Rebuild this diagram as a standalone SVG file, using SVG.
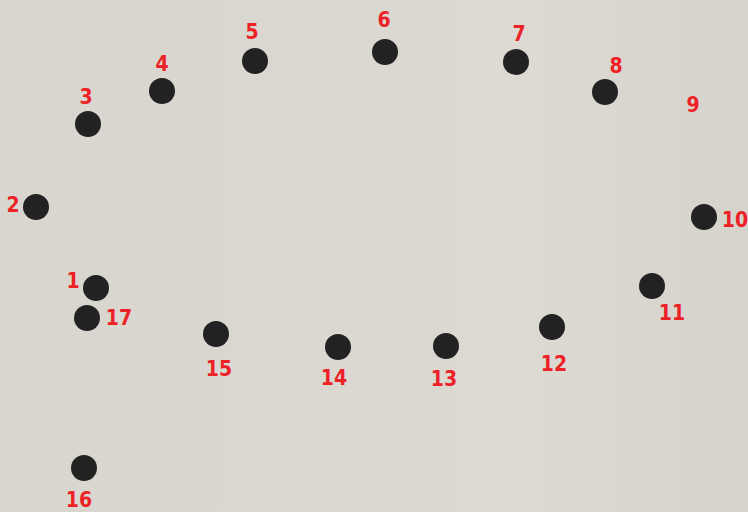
<svg xmlns="http://www.w3.org/2000/svg" width="748" height="512" viewBox="0 0 748 512">
<defs>
<style>
.d{fill:#222}
.t{fill:#ec2227;font-family:"DejaVu Sans Condensed","Liberation Sans",sans-serif;font-stretch:condensed;font-weight:bold;font-size:21px;text-anchor:middle;dominant-baseline:central}
</style>
<linearGradient id="bg" x1="0" y1="0" x2="1" y2="0">
<stop offset="0" stop-color="#d9d6cf"/>
<stop offset="0.6" stop-color="#dbd8d1"/>
<stop offset="0.64" stop-color="#dedbd4"/>
<stop offset="1" stop-color="#d6d3cc"/>
</linearGradient>
</defs>
<rect width="748" height="512" fill="url(#bg)"/>
<g id="connectors"/>
<g id="p1"><circle class="d" cx="96" cy="288" r="13"/><text class="t" x="73" y="281">1</text></g>
<g id="p2"><circle class="d" cx="36" cy="207" r="13"/><text class="t" x="13" y="205">2</text></g>
<g id="p3"><circle class="d" cx="88" cy="124" r="13"/><text class="t" x="86" y="97">3</text></g>
<g id="p4"><circle class="d" cx="162" cy="91" r="13"/><text class="t" x="162" y="64">4</text></g>
<g id="p5"><circle class="d" cx="255" cy="61" r="13"/><text class="t" x="252" y="32">5</text></g>
<g id="p6"><circle class="d" cx="385" cy="52" r="13"/><text class="t" x="384" y="20">6</text></g>
<g id="p7"><circle class="d" cx="516" cy="62" r="13"/><text class="t" x="519" y="34">7</text></g>
<g id="p8"><circle class="d" cx="605" cy="92" r="13"/><text class="t" x="616" y="66">8</text></g>
<g id="p9"><text class="t" x="693" y="105">9</text></g>
<g id="p10"><circle class="d" cx="704" cy="217" r="13"/><text class="t" x="735" y="220">10</text></g>
<g id="p11"><circle class="d" cx="652" cy="286" r="13"/><text class="t" x="672" y="313">11</text></g>
<g id="p12"><circle class="d" cx="552" cy="327" r="13"/><text class="t" x="554" y="364">12</text></g>
<g id="p13"><circle class="d" cx="446" cy="346" r="13"/><text class="t" x="444" y="379">13</text></g>
<g id="p14"><circle class="d" cx="338" cy="347" r="13"/><text class="t" x="334" y="378">14</text></g>
<g id="p15"><circle class="d" cx="216" cy="334" r="13"/><text class="t" x="219" y="369">15</text></g>
<g id="p16"><circle class="d" cx="84" cy="468" r="13"/><text class="t" x="79" y="500">16</text></g>
<g id="p17"><circle class="d" cx="87" cy="318" r="13"/><text class="t" x="119" y="318">17</text></g>
</svg>
